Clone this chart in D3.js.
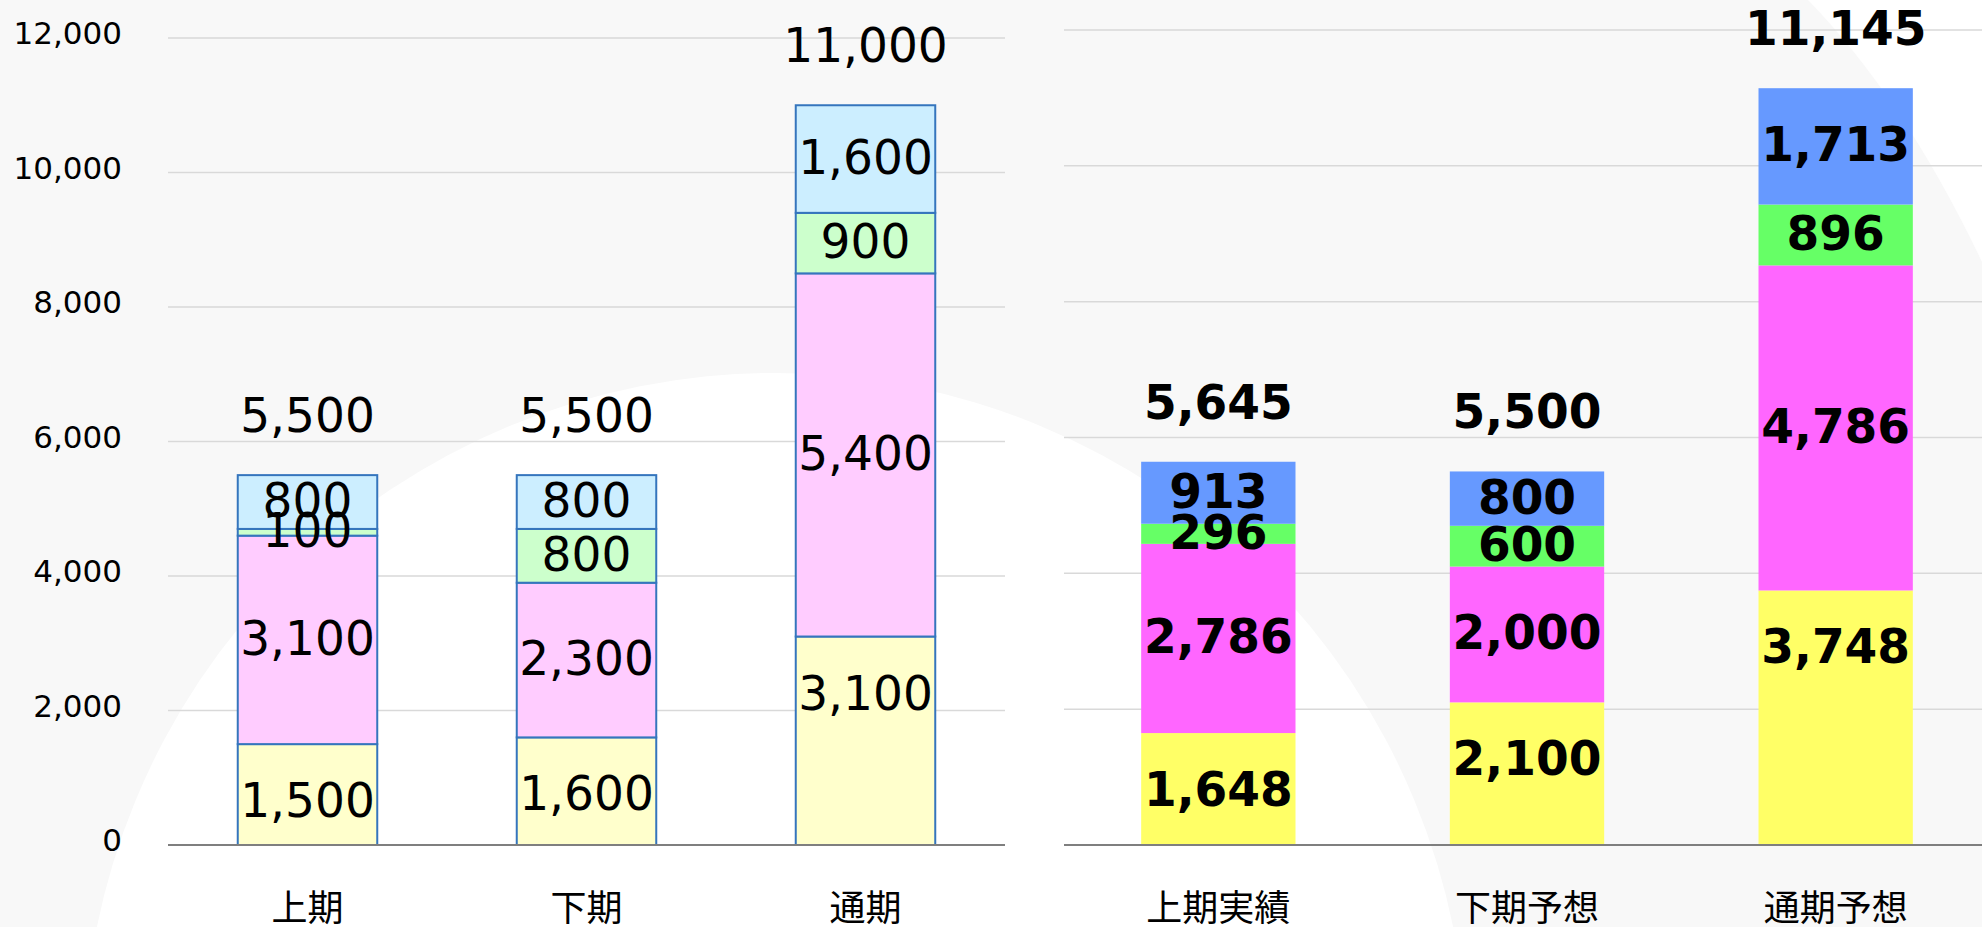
<!DOCTYPE html>
<html>
<head>
<meta charset="utf-8">
<script src="https://cdn.jsdelivr.net/npm/d3@7"></script>
<style>
  html, body { margin: 0; padding: 0; background: #f8f8f8; }
  svg { display: block; }
</style>
</head>
<body>
<div id="chart"></div>
<script>
// left chart (plan)
const leftCats   = ["上期", "下期", "通期"];
const leftYellow = [1500, 1600, 3100];
const leftPink   = [3100, 2300, 5400];
const leftGreen  = [100, 800, 900];
const leftBlue   = [800, 800, 1600];
const leftTotals = [5500, 5500, 11000];

// right chart (actual / forecast)
const rightCats   = ["上期実績", "下期予想", "通期予想"];
const rightYellow = [1648, 2100, 3748];
const rightPink   = [2786, 2000, 4786];
const rightGreen  = [296, 600, 896];
const rightBlue   = [913, 800, 1713];
const rightTotals = [5645, 5500, 11145];

const yTicks = [0, 2000, 4000, 6000, 8000, 10000, 12000];
const keys = ["yellow", "pink", "green", "blue"];

const W = 1982, H = 927;
const fmt = d3.format(",");

const svg = d3.select("#chart").append("svg")
  .attr("width", W)
  .attr("height", H);

// background decoration
svg.append("rect").attr("width", W).attr("height", H).attr("fill", "#f8f8f8");
svg.append("circle").attr("cx", 775).attr("cy", 1065).attr("r", 692).attr("fill", "#ffffff");
svg.append("path")
  .attr("d", "M1808,0 Q1905,100 1982,262 L1982,0 Z")
  .attr("fill", "#ffffff");

function buildTable(cats, y, p, g, b) {
  return cats.map((c, i) => ({cat: c, yellow: y[i], pink: p[i], green: g[i], blue: b[i]}));
}

function drawPanel(o) {
  const table = buildTable(o.cats, o.yellow, o.pink, o.green, o.blue);
  const series = d3.stack().keys(keys)(table);

  const x = d3.scaleBand()
    .domain(o.cats)
    .range([o.x0, o.x1])
    .paddingInner(0.5)
    .paddingOuter(0.25);

  const y = d3.scaleLinear()
    .domain([0, 12000])
    .range([845, o.yTop]);

  const g = svg.append("g");

  // gridlines
  g.selectAll("line.grid")
    .data(yTicks.filter(d => d > 0))
    .enter().append("line")
    .attr("class", "grid")
    .attr("x1", o.x0).attr("x2", o.gx1)
    .attr("y1", d => y(d)).attr("y2", d => y(d))
    .attr("stroke", "#d9d9d9")
    .attr("stroke-width", 1.5);

  // y tick labels
  if (o.showTicks) {
    g.selectAll("text.tick")
      .data(yTicks)
      .enter().append("text")
      .attr("class", "tick")
      .attr("x", 122)
      .attr("y", d => y(d) + 6)
      .attr("text-anchor", "end")
      .attr("font-family", "'DejaVu Sans', Verdana, sans-serif")
      .attr("font-size", 31)
      .attr("fill", "#000")
      .text(d => fmt(d));
  }

  // stacked bars
  const layers = g.selectAll("g.layer")
    .data(series)
    .enter().append("g")
    .attr("class", "layer")
    .attr("fill", d => o.colors[d.key]);

  layers.selectAll("rect")
    .data(d => d)
    .enter().append("rect")
    .attr("x", d => x(d.data.cat))
    .attr("y", d => y(d[1]))
    .attr("width", x.bandwidth())
    .attr("height", d => y(d[0]) - y(d[1]))
    .attr("stroke", o.stroke || "none")
    .attr("stroke-width", o.stroke ? 2 : 0);

  // baseline axis
  g.append("line")
    .attr("x1", o.x0).attr("x2", o.gx1)
    .attr("y1", y(0)).attr("y2", y(0))
    .attr("stroke", "#7f7f7f")
    .attr("stroke-width", 2);

  // segment labels (bottom series sits at inside end, others centred)
  series.forEach(s => {
    const cy = d => s.key === "yellow" ? y(d[1]) + 58 : (y(d[0]) + y(d[1])) / 2;
    g.selectAll(null)
      .data(s)
      .enter().append("text")
      .attr("transform", d => `translate(${x(d.data.cat) + x.bandwidth() / 2},${cy(d) + 15}) scale(0.98,1)`)
      .attr("text-anchor", "middle")
      .attr("font-family", "'DejaVu Sans', Verdana, sans-serif")
      .attr("font-weight", o.weight)
      .attr("font-size", 48)
      .attr("fill", "#000")
      .text(d => fmt(d[1] - d[0]));
  });

  // totals above bars
  const top = series[series.length - 1];
  g.selectAll("text.total")
    .data(top)
    .enter().append("text")
    .attr("class", "total")
    .attr("transform", d => `translate(${x(d.data.cat) + x.bandwidth() / 2},${y(d[1]) - 43}) scale(0.98,1)`)
    .attr("text-anchor", "middle")
    .attr("font-family", "'DejaVu Sans', Verdana, sans-serif")
    .attr("font-weight", o.weight)
    .attr("font-size", 48)
    .attr("fill", "#000")
    .text((d, i) => fmt(o.totals[i]));

  // category labels
  g.selectAll("text.cat")
    .data(o.cats)
    .enter().append("text")
    .attr("class", "cat")
    .attr("x", d => x(d) + x.bandwidth() / 2)
    .attr("y", 905)
    .attr("dominant-baseline", "central")
    .attr("text-anchor", "middle")
    .attr("font-family", "'Noto Sans CJK JP', sans-serif")
    .attr("font-size", 36)
    .attr("fill", "#000")
    .text(d => d);
}

drawPanel({
  cats: leftCats, yellow: leftYellow, pink: leftPink, green: leftGreen, blue: leftBlue,
  totals: leftTotals,
  x0: 168, x1: 1005, gx1: 1005, yTop: 38,
  colors: {yellow: "#ffffcc", pink: "#ffccff", green: "#ccffcc", blue: "#cceeff"},
  stroke: "#3575bd",
  weight: "normal",
  showTicks: true
});

drawPanel({
  cats: rightCats, yellow: rightYellow, pink: rightPink, green: rightGreen, blue: rightBlue,
  totals: rightTotals,
  x0: 1064, x1: 1990, gx1: 1982, yTop: 30,
  colors: {yellow: "#ffff66", pink: "#ff66ff", green: "#66ff66", blue: "#6699ff"},
  stroke: null,
  weight: "bold",
  showTicks: false
});
</script>
</body>
</html>
